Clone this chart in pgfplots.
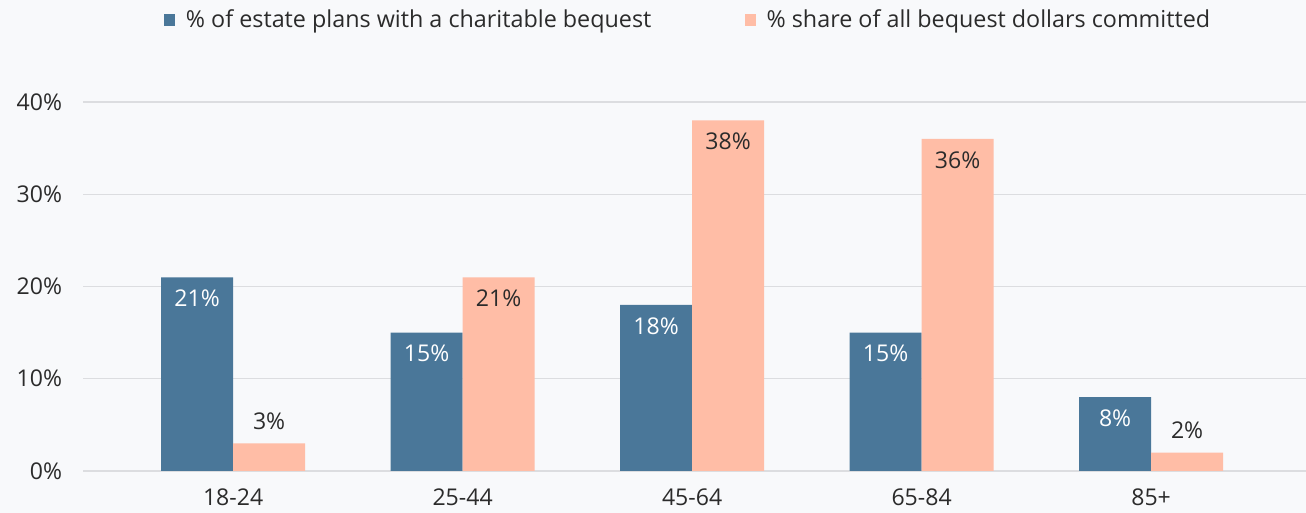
\documentclass[border=0pt]{standalone}
\usepackage{pgfplots}
\pgfplotsset{compat=1.18}
\usepackage{fontspec}
\setmainfont{Open Sans}
\definecolor{barblue}{HTML}{4A7799}
\definecolor{barpeach}{HTML}{FFBDA6}
\definecolor{bgc}{HTML}{F8F9FB}
\definecolor{gridc}{HTML}{DCDDE0}
\definecolor{txt}{HTML}{2B2B2B}
\begin{document}
\begin{tikzpicture}
\fill[bgc] (0,0) rectangle (979.5pt,384.75pt);
\useasboundingbox (0,0) rectangle (979.5pt,384.75pt);
\begin{axis}[
  at={(62.25pt,31.5pt)}, anchor=south west,
  scale only axis, width=917.25pt, height=276.75pt,
  axis line style={draw=none},
  /pgf/number format/assume math mode=true,
  xmin=-0.654, xmax=4.675, ymin=0, ymax=40,
  clip=false,
  ymajorgrids, grid style={gridc, line width=0.9pt},
  ytick={0,10,20,30,40},
  yticklabels={0\%,10\%,20\%,30\%,40\%},
  xtick={0,1,2,3,4},
  xticklabels={18-24,25-44,45-64,65-84,85+},
  major tick length=0pt,
  tick style={draw=none},
  every tick label/.append style={font=\fontsize{17.3pt}{20pt}\selectfont, text=txt},
  yticklabel style={inner sep=0pt, anchor=east, xshift=-15.5pt},
  xticklabel style={inner sep=0pt, anchor=north, yshift=-13.5pt},
  ybar, bar width=54pt,
  legend style={at={(0.5,1)}, anchor=center, yshift=61.5pt, xshift=-4.5pt,
    draw=none, fill=none, legend columns=2,
    font=\fontsize{17.5pt}{20pt}\selectfont, text=txt,
    /tikz/every odd column/.append style={column sep=6pt},
    /tikz/every even column/.append style={column sep=68pt}},
  legend image code/.code={\fill[#1] (0pt,-4.2pt) rectangle (8.4pt,4.2pt);},
]
\draw[gridc, line width=0.9pt] (axis cs:-0.654,0) -- (axis cs:4.675,0);
\addplot[fill=barblue, draw=none, bar shift=-27pt] coordinates {(0,21) (1,15) (2,18) (3,15) (4,8)};
\addlegendentry{\% of estate plans with a charitable bequest}
\addplot[fill=barpeach, draw=none, bar shift=27pt] coordinates {(0,3) (1,21) (2,38) (3,36) (4,2)};
\addlegendentry{\% share of all bequest dollars committed}
% labels
\addplot[draw=none, fill=none, bar shift=-27pt, forget plot,
  nodes near coords={\pgfmathprintnumber{\pgfplotspointmeta}\%},
  every node near coord/.append style={font=\fontsize{17.3pt}{20pt}\selectfont, text=white, anchor=center, yshift=-15.75pt, inner sep=0pt}]
  coordinates {(0,21) (1,15) (2,18) (3,15) (4,8)};
\addplot[draw=none, fill=none, bar shift=27pt, forget plot,
  nodes near coords={\pgfmathprintnumber{\pgfplotspointmeta}\%},
  every node near coord/.append style={font=\fontsize{17.3pt}{20pt}\selectfont, text=txt, anchor=center, yshift=-15.75pt, inner sep=0pt}]
  coordinates {(1,21) (2,38) (3,36)};
\addplot[draw=none, fill=none, bar shift=27pt, forget plot,
  nodes near coords={\pgfmathprintnumber{\pgfplotspointmeta}\%},
  every node near coord/.append style={font=\fontsize{17.3pt}{20pt}\selectfont, text=txt, anchor=center, yshift=16.5pt, inner sep=0pt}]
  coordinates {(0,3) (4,2)};
\end{axis}
\end{tikzpicture}
\end{document}
